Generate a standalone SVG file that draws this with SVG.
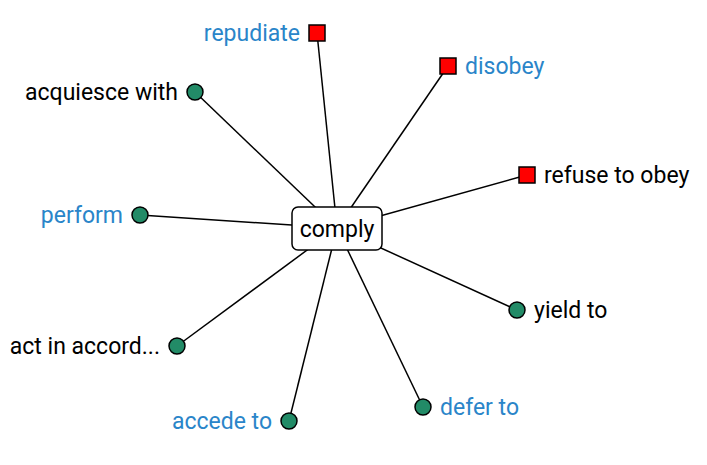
<svg xmlns="http://www.w3.org/2000/svg" width="707" height="465" viewBox="0 0 707 465">
<style>
text{font-family:Roboto,"Liberation Sans",sans-serif;font-size:23px;fill:#000}
.b{fill:#2a85c9}
.e{stroke:#000;stroke-width:1.5}
.c{fill:#228b67;stroke:#000;stroke-width:1.5}
.s{fill:#ff0000;stroke:#000;stroke-width:1.5}
.r{text-anchor:end}
</style>
<rect width="707" height="465" fill="#fff"/>
<g id="connectors">
<line class="e" x1="337" y1="228" x2="317" y2="33"/>
<line class="e" x1="337" y1="228" x2="448" y2="66"/>
<line class="e" x1="337" y1="228" x2="527" y2="175"/>
<line class="e" x1="337" y1="228" x2="195" y2="92"/>
<line class="e" x1="337" y1="228" x2="140" y2="215"/>
<line class="e" x1="337" y1="228" x2="177" y2="346"/>
<line class="e" x1="337" y1="228" x2="289" y2="421"/>
<line class="e" x1="337" y1="228" x2="423" y2="407"/>
<line class="e" x1="337" y1="228" x2="517" y2="310"/>
</g>
<g id="n-repudiate"><rect class="s" x="309" y="25" width="16" height="16"/><text class="b r" x="300" y="41">repudiate</text></g>
<g id="n-disobey"><rect class="s" x="440" y="58" width="16" height="16"/><text class="b" x="465" y="74">disobey</text></g>
<g id="n-refuse"><rect class="s" x="519" y="167" width="16" height="16"/><text x="544" y="183">refuse to obey</text></g>
<g id="n-acquiesce"><circle class="c" cx="195" cy="92" r="8"/><text class="r" x="178" y="100">acquiesce with</text></g>
<g id="n-perform"><circle class="c" cx="140" cy="215" r="8"/><text class="b r" x="123" y="223">perform</text></g>
<g id="n-act"><circle class="c" cx="177" cy="346" r="8"/><text class="r" x="160" y="354">act in accord...</text></g>
<g id="n-accede"><circle class="c" cx="289" cy="421" r="8"/><text class="b r" x="272" y="429">accede to</text></g>
<g id="n-defer"><circle class="c" cx="423" cy="407" r="8"/><text class="b" x="440" y="415">defer to</text></g>
<g id="n-yield"><circle class="c" cx="517" cy="310" r="8"/><text x="534" y="318">yield to</text></g>
<g id="n-comply"><rect x="292" y="207" width="90" height="43" rx="6" fill="#fff" stroke="#000" stroke-width="1.5"/><text x="337" y="237" text-anchor="middle">comply</text></g>
</svg>
